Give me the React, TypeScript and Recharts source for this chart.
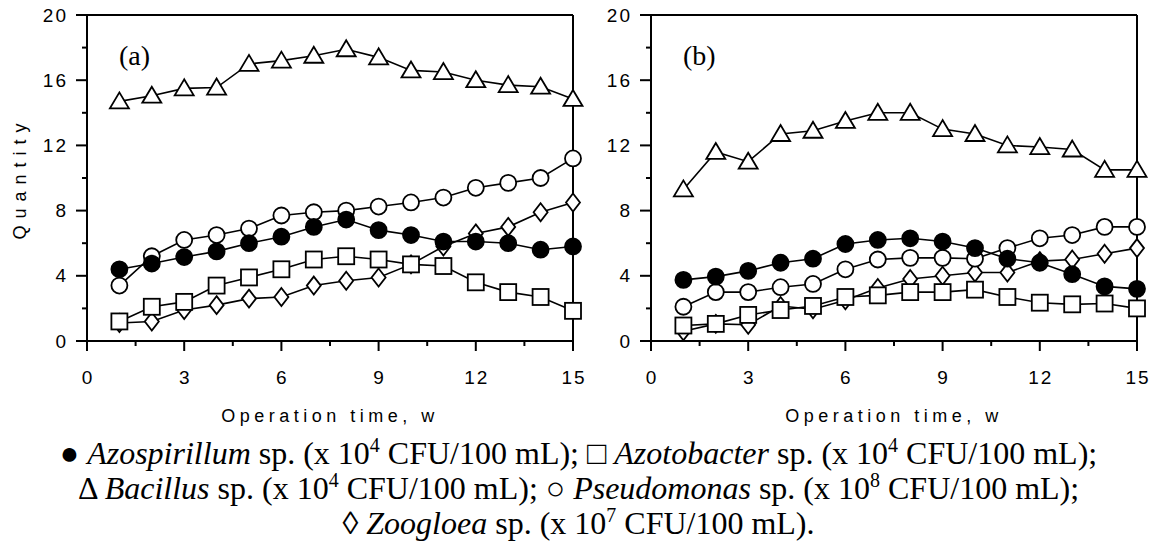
import { LineChart, Line, XAxis, YAxis, ReferenceLine, Customized } from "recharts";

const weeks = [1, 2, 3, 4, 5, 6, 7, 8, 9, 10, 11, 12, 13, 14, 15];

// panel (a)
const azospirillumA = [4.4, 4.75, 5.15, 5.5, 6.0, 6.4, 7.0, 7.45, 6.8, 6.5, 6.1, 6.1, 6.0, 5.6, 5.8];
const azotobacterA = [1.2, 2.1, 2.4, 3.4, 3.9, 4.4, 5.0, 5.2, 5.0, 4.7, 4.6, 3.6, 3.0, 2.7, 1.85];
const bacillusA = [14.7, 15.05, 15.5, 15.55, 17.0, 17.2, 17.5, 17.9, 17.4, 16.6, 16.5, 16.0, 15.7, 15.6, 14.85];
const pseudomonasA = [3.4, 5.2, 6.2, 6.5, 6.9, 7.7, 7.9, 8.0, 8.25, 8.5, 8.8, 9.4, 9.7, 10.0, 11.2];
const zoogloeaA = [1.1, 1.2, 1.9, 2.2, 2.6, 2.7, 3.4, 3.7, 3.9, 4.7, 5.8, 6.6, 7.0, 7.9, 8.5];

// panel (b)
const azospirillumB = [3.75, 3.95, 4.3, 4.8, 5.05, 5.95, 6.2, 6.3, 6.1, 5.7, 5.05, 4.8, 4.1, 3.35, 3.2];
const azotobacterB = [0.95, 1.05, 1.6, 1.9, 2.15, 2.7, 2.8, 3.0, 3.0, 3.15, 2.7, 2.35, 2.25, 2.3, 2.0];
const bacillusB = [9.3, 11.6, 11.0, 12.7, 12.9, 13.5, 14.0, 14.0, 13.0, 12.7, 12.0, 11.9, 11.75, 10.5, 10.5];
const pseudomonasB = [2.1, 3.0, 3.0, 3.3, 3.5, 4.4, 5.0, 5.1, 5.1, 5.05, 5.7, 6.3, 6.5, 7.0, 7.0];
const zoogloeaB = [0.6, 1.05, 1.0, 2.15, 1.95, 2.5, 3.25, 3.8, 4.0, 4.2, 4.2, 4.9, 5.0, 5.35, 5.7];

const xTicks = [0, 1.5, 3, 4.5, 6, 7.5, 9, 10.5, 12, 13.5, 15];
const yTicks = [0, 2, 4, 6, 8, 10, 12, 14, 16, 18, 20];

const sans = "'Liberation Sans', Arial, sans-serif";
const serif = "'Liberation Serif', 'Times New Roman', serif";

function rows(azo: number[], azot: number[], bac: number[], pse: number[], zoo: number[]) {
  return weeks.map((w, i) => ({ week: w, azo: azo[i], azot: azot[i], bac: bac[i], pse: pse[i], zoo: zoo[i] }));
}

const dataA = rows(azospirillumA, azotobacterA, bacillusA, pseudomonasA, zoogloeaA);
const dataB = rows(azospirillumB, azotobacterB, bacillusB, pseudomonasB, zoogloeaB);

const SW = 1.8;

const circleDot = (fill: string) => (p: any) => (
  <circle key={p.index} cx={p.cx} cy={p.cy} r={8} fill={fill} stroke="#000" strokeWidth={SW} />
);
const squareDot = (p: any) => (
  <rect key={p.index} x={p.cx - 8} y={p.cy - 8} width={16} height={16} fill="#fff" stroke="#000" strokeWidth={SW} />
);
const triangleDot = (p: any) => (
  <polygon
    key={p.index}
    points={`${p.cx},${p.cy - 9} ${p.cx - 9.5},${p.cy + 7} ${p.cx + 9.5},${p.cy + 7}`}
    fill="#fff"
    stroke="#000"
    strokeWidth={SW}
  />
);
const diamondDot = (p: any) => (
  <polygon
    key={p.index}
    points={`${p.cx},${p.cy - 9} ${p.cx + 7},${p.cy} ${p.cx},${p.cy + 9} ${p.cx - 7},${p.cy}`}
    fill="#fff"
    stroke="#000"
    strokeWidth={SW}
  />
);

function XTick({ x, y, payload }: any) {
  const major = payload.value % 3 === 0;
  return (
    <g>
      <line x1={x} x2={x} y1={y} y2={y + (major ? 10 : 5)} stroke="#000" strokeWidth={2} />
      {major && (
        <text x={x + 1} y={y + 36} textAnchor="middle" dominantBaseline="central"
          fontFamily={sans} fontSize={19} letterSpacing={2} fill="#000">
          {payload.value}
        </text>
      )}
    </g>
  );
}

function YTick({ x, y, payload }: any) {
  const major = payload.value % 4 === 0;
  return (
    <g>
      <line x1={x - (major ? 11 : 5)} x2={x} y1={y} y2={y} stroke="#000" strokeWidth={2} />
      {major && (
        <text x={x - 19} y={y} textAnchor="end" dominantBaseline="central"
          fontFamily={sans} fontSize={19} letterSpacing={2} fill="#000">
          {payload.value}
        </text>
      )}
    </g>
  );
}

function Panel({ data, tag, yLabel }: { data: any[]; tag: string; yLabel: boolean }) {
  return (
    <LineChart width={590} height={431} data={data} margin={{ top: 15, right: 17, bottom: 0, left: 0 }}>
      <XAxis dataKey="week" type="number" domain={[0, 15]} ticks={xTicks} interval={0}
        tick={<XTick />} tickSize={0} tickMargin={0} height={90}
        axisLine={{ stroke: "#000", strokeWidth: 2 }} />
      <YAxis type="number" domain={[0, 20]} ticks={yTicks} interval={0}
        tick={<YTick />} tickSize={0} tickMargin={0} width={87}
        axisLine={{ stroke: "#000", strokeWidth: 2 }} />
      <ReferenceLine y={20} stroke="#000" strokeWidth={2} />
      <ReferenceLine x={15} stroke="#000" strokeWidth={2} />
      <Line dataKey="zoo" stroke="#000" strokeWidth={1.6} dot={diamondDot} isAnimationActive={false} />
      <Line dataKey="pse" stroke="#000" strokeWidth={1.6} dot={circleDot("#fff")} isAnimationActive={false} />
      <Line dataKey="bac" stroke="#000" strokeWidth={1.6} dot={triangleDot} isAnimationActive={false} />
      <Line dataKey="azo" stroke="#000" strokeWidth={1.6} dot={circleDot("#000")} isAnimationActive={false} />
      <Line dataKey="azot" stroke="#000" strokeWidth={1.6} dot={squareDot} isAnimationActive={false} />
      <Customized
        component={() => (
          <g>
            <text x={119} y={65} fontFamily={serif} fontSize={28} fill="#000">{tag}</text>
            <text x={330} y={416} textAnchor="middle" dominantBaseline="central"
              fontFamily={sans} fontSize={18} letterSpacing={4.5} fill="#000">
              Operation time, w
            </text>
            {yLabel && (
              <text x={20} y={178} textAnchor="middle" dominantBaseline="central"
                transform="rotate(-90 20 178)" fontFamily={sans} fontSize={18} letterSpacing={7} fill="#000">
                Quantity
              </text>
            )}
          </g>
        )}
      />
    </LineChart>
  );
}

const supStyle = { fontSize: 20, lineHeight: 0 };

export default function App() {
  return (
    <div style={{ position: "absolute", left: 0, top: 0, width: 1157, height: 548, background: "#fff", overflow: "hidden" }}>
      <div style={{ position: "absolute", left: 0, top: 0 }}>
        <Panel data={dataA} tag="(a)" yLabel />
      </div>
      <div style={{ position: "absolute", left: 564, top: 0 }}>
        <Panel data={dataB} tag="(b)" yLabel={false} />
      </div>
      <div style={{
        position: "absolute", left: 0, top: 436, width: 1157, textAlign: "center",
        fontFamily: serif, fontSize: 32, lineHeight: "35px", color: "#000", whiteSpace: "nowrap",
      }}>
        <div>● <i>Azospirillum</i> sp. (x 10<sup style={supStyle}>4</sup> CFU/100 mL); □ <i>Azotobacter</i> sp. (x 10<sup style={supStyle}>4</sup> CFU/100 mL);</div>
        <div>Δ <i>Bacillus</i> sp. (x 10<sup style={supStyle}>4</sup> CFU/100 mL); ○ <i>Pseudomonas</i> sp. (x 10<sup style={supStyle}>8</sup> CFU/100 mL);</div>
        <div>◊ <i>Zoogloea</i> sp. (x 10<sup style={supStyle}>7</sup> CFU/100 mL).</div>
      </div>
    </div>
  );
}
